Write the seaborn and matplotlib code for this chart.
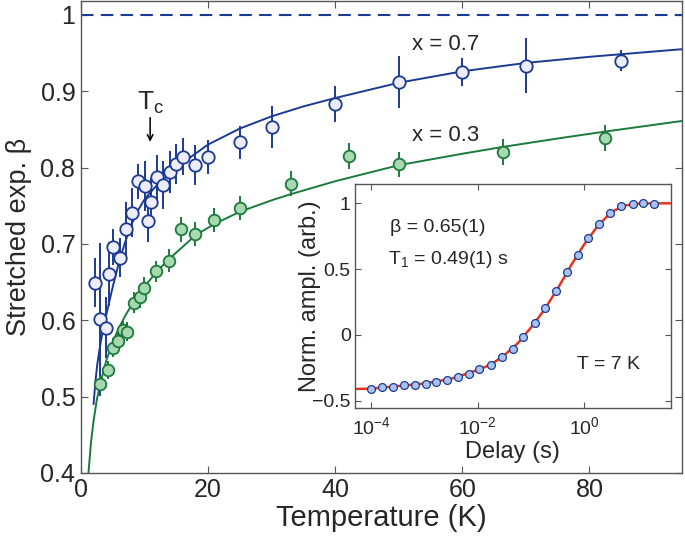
import numpy as np
import pandas as pd
import matplotlib
matplotlib.use("Agg")
import matplotlib.pyplot as plt
import seaborn as sns

# main panel: stretched exponent vs temperature
blue_T = [2.25, 2.95, 4.0, 4.5, 5.0, 6.1, 7.1, 8.0, 9.0, 10.1, 10.5, 11.0, 12.0, 13.0,
          14.0, 15.0, 16.0, 18.0, 20.0, 25.0, 30.0, 40.0, 50.0, 60.0, 70.0, 85.0]
blue_beta = [0.649, 0.601, 0.590, 0.661, 0.696, 0.682, 0.720, 0.741, 0.782, 0.776, 0.730,
             0.755, 0.787, 0.777, 0.794, 0.805, 0.814, 0.803, 0.814, 0.833, 0.853, 0.883,
             0.912, 0.925, 0.933, 0.940]
blue_err = [0.032, 0.10, 0.04, 0.042, 0.024, 0.026, 0.035, 0.032, 0.023, 0.033, 0.028,
            0.031, 0.030, 0.031, 0.028, 0.026, 0.024, 0.026, 0.022, 0.022, 0.027, 0.024,
            0.034, 0.018, 0.036, 0.014]

green_T = [3.0, 4.2, 5.0, 5.9, 6.6, 7.2, 8.3, 9.3, 10.0, 11.9, 13.8, 15.7, 18.0, 21.0,
           25.0, 33.0, 42.2, 50.1, 66.4, 82.4]
green_beta = [0.517, 0.535, 0.564, 0.573, 0.587, 0.585, 0.623, 0.630, 0.642, 0.664, 0.678,
              0.719, 0.713, 0.731, 0.747, 0.779, 0.815, 0.804, 0.820, 0.839]
green_err = [0.010, 0.012, 0.012, 0.012, 0.012, 0.012, 0.014, 0.014, 0.014, 0.014, 0.015,
             0.016, 0.016, 0.016, 0.016, 0.016, 0.017, 0.016, 0.017, 0.017]

# fit curves
blue_fit_T = [2.0, 2.3, 2.6, 3.0, 3.5, 4.0, 5.0, 6.0, 7.0, 8.0, 9.0, 10.0, 11.0, 12.0,
              14.0, 17.0, 20.0, 25.0, 30.0, 35.0, 40.0, 50.0, 60.0, 70.0, 80.0, 94.6]
blue_fit_beta = [0.49, 0.52, 0.543, 0.565, 0.588, 0.607, 0.643, 0.676, 0.703, 0.726, 0.744,
                 0.758, 0.768, 0.777, 0.792, 0.812, 0.830, 0.851, 0.867, 0.880, 0.891,
                 0.911, 0.926, 0.937, 0.945, 0.955]
green_fit_T = [1.2, 1.6, 2.0, 2.5, 3.0, 4.0, 5.0, 6.0, 7.0, 8.0, 10.0, 12.0, 14.0, 18.0,
               21.0, 25.0, 30.0, 33.0, 40.0, 50.0, 60.0, 66.4, 75.0, 82.4, 94.6]
green_fit_beta = [0.40, 0.44, 0.468, 0.495, 0.515, 0.547, 0.571, 0.590, 0.606, 0.620, 0.644,
                  0.664, 0.681, 0.711, 0.726, 0.742, 0.757, 0.765, 0.782, 0.803, 0.818,
                  0.827, 0.838, 0.847, 0.861]

main_xticks = [0, 20, 40, 60, 80]
main_yticks = [0.4, 0.5, 0.6, 0.7, 0.8, 0.9, 1.0]
main_yticklabels = ["0.4", "0.5", "0.6", "0.7", "0.8", "0.9", "1"]

# inset: recovery curve at T = 7 K
delay = [1.0e-4, 1.6e-4, 2.6e-4, 4.1e-4, 6.6e-4, 1.05e-3, 1.66e-3, 2.6e-3, 4.3e-3, 6.8e-3,
         1.07e-2, 1.74e-2, 2.8e-2, 4.5e-2, 7.2e-2, 0.117, 0.186, 0.295, 0.468, 0.76, 1.2,
         1.9, 3.1, 5.0, 8.1, 12.9, 20.9]
ampl = [-0.411, -0.401, -0.396, -0.384, -0.379, -0.371, -0.358, -0.343, -0.323, -0.298,
        -0.262, -0.227, -0.169, -0.108, -0.019, 0.089, 0.201, 0.330, 0.474, 0.610, 0.739,
        0.841, 0.929, 0.980, 0.995, 1.005, 0.995]
fit_delay = [4.9e-5, 1e-4, 3.16e-4, 1e-3, 3.16e-3, 1e-2, 1.78e-2, 3.16e-2, 5.6e-2, 0.1,
             0.178, 0.316, 0.56, 1.0, 1.78, 3.16, 5.6, 10.0, 17.8, 42.0]
fit_ampl = [-0.412, -0.41, -0.39, -0.371, -0.335, -0.268, -0.226, -0.155, -0.066, 0.055,
            0.19, 0.35, 0.525, 0.688, 0.826, 0.93, 0.983, 0.997, 1.0, 1.0]
inset_xticks = [1e-4, 1e-2, 1e0]
inset_yticks = [-0.5, 0, 0.5, 1]
inset_yticklabels = ["\u22120.5", "0", "0.5", "1"]

BLUE = "#1b3a94"
BLUE_FACE = "#ededf9"
GREEN = "#1b7a3c"
GREEN_FACE = "#a8d8b0"
RED = "#e2351f"
INSET_FACE = "#a9c3ef"
SPINE = "#555555"

sns.set_style("ticks")
plt.rcParams["font.family"] = ["Liberation Sans", "DejaVu Sans"]
plt.rcParams["mathtext.default"] = "regular"

fig = plt.figure(figsize=(6.85, 5.46), dpi=100)
ax = fig.add_axes([0.118, 0.134, 0.878, 0.864])

blue_df = pd.DataFrame({"T": blue_T, "beta": blue_beta})
green_df = pd.DataFrame({"T": green_T, "beta": green_beta})

ax.axhline(1.0, color=BLUE, lw=1.5, ls=(0, (6, 3.5)), zorder=1)
sns.lineplot(x=blue_fit_T, y=blue_fit_beta, ax=ax, color=BLUE, lw=1.4, sort=False,
             estimator=None, zorder=2)
sns.lineplot(x=green_fit_T, y=green_fit_beta, ax=ax, color=GREEN, lw=1.4, sort=False,
             estimator=None, zorder=2)
ax.errorbar(blue_T, blue_beta, yerr=blue_err, fmt="none", ecolor=BLUE, elinewidth=1.4,
            capsize=0, zorder=3)
ax.errorbar(green_T, green_beta, yerr=green_err, fmt="none", ecolor=GREEN, elinewidth=1.4,
            capsize=0, zorder=3)
sns.scatterplot(data=green_df, x="T", y="beta", ax=ax, s=70, color=GREEN_FACE,
                edgecolor=GREEN, linewidth=1.3, zorder=4)
sns.scatterplot(data=blue_df, x="T", y="beta", ax=ax, s=80, color=BLUE_FACE,
                edgecolor=BLUE, linewidth=1.3, zorder=4)

ax.set_xlim(0, 94.6)
ax.set_ylim(0.4, 1.018)
ax.set_xticks(main_xticks)
ax.set_yticks(main_yticks)
ax.set_yticklabels(main_yticklabels)
ax.tick_params(direction="in", length=5, width=0.8, color=SPINE, labelsize=18,
               top=True, right=True, pad=4)
for sp in ax.spines.values():
    sp.set_color(SPINE)
    sp.set_linewidth(1.0)
ax.set_xlabel("Temperature (K)", fontsize=21, labelpad=1)
ax.set_ylabel("Stretched exp. \u03b2", fontsize=19.5, labelpad=6)

ax.text(0.551, 0.909, "x = 0.7", transform=ax.transAxes, fontsize=16, va="center")
ax.text(0.551, 0.715, "x = 0.3", transform=ax.transAxes, fontsize=16, va="center")
ax.text(10.9, 0.885, "$T_c$", fontsize=19, ha="center", va="center")
ax.annotate("", xy=(10.9, 0.830), xytext=(10.9, 0.869),
            arrowprops=dict(arrowstyle="->", color="black", lw=1.1))

# inset
ins = fig.add_axes([0.518, 0.253, 0.461, 0.410])
ins.set_facecolor("white")
sns.lineplot(x=fit_delay, y=fit_ampl, ax=ins, color=RED, lw=1.8, sort=False,
             estimator=None, zorder=2)
sns.scatterplot(x=delay, y=ampl, ax=ins, s=32, color=INSET_FACE, edgecolor=BLUE,
                linewidth=0.9, zorder=3)
ins.set_xscale("log")
ins.set_xlim(4.9e-5, 42)
ins.set_ylim(-0.556, 1.147)
ins.set_xticks(inset_xticks)
ins.minorticks_off()
ins.set_yticks(inset_yticks)
ins.set_yticklabels(inset_yticklabels)
ins.tick_params(direction="in", length=4, width=0.8, color=SPINE, labelsize=14,
                top=True, right=True, pad=3)
ins.tick_params(axis="x", pad=6)
for sp in ins.spines.values():
    sp.set_color(SPINE)
    sp.set_linewidth(1.0)
ins.set_xlabel("Delay (s)", fontsize=17, labelpad=2)
ins.set_ylabel("Norm. ampl. (arb.)", fontsize=17)
ins.yaxis.set_label_coords(-0.108, 0.5)
ins.text(0.111, 0.804, "\u03b2 = 0.65(1)", transform=ins.transAxes, fontsize=14, va="center")
ins.text(0.106, 0.661, "$T_1$ = 0.49(1) s", transform=ins.transAxes, fontsize=14, va="center")
ins.text(0.705, 0.193, "T = 7 K", transform=ins.transAxes, fontsize=14, va="center")

fig.savefig("out.png", dpi=100)
